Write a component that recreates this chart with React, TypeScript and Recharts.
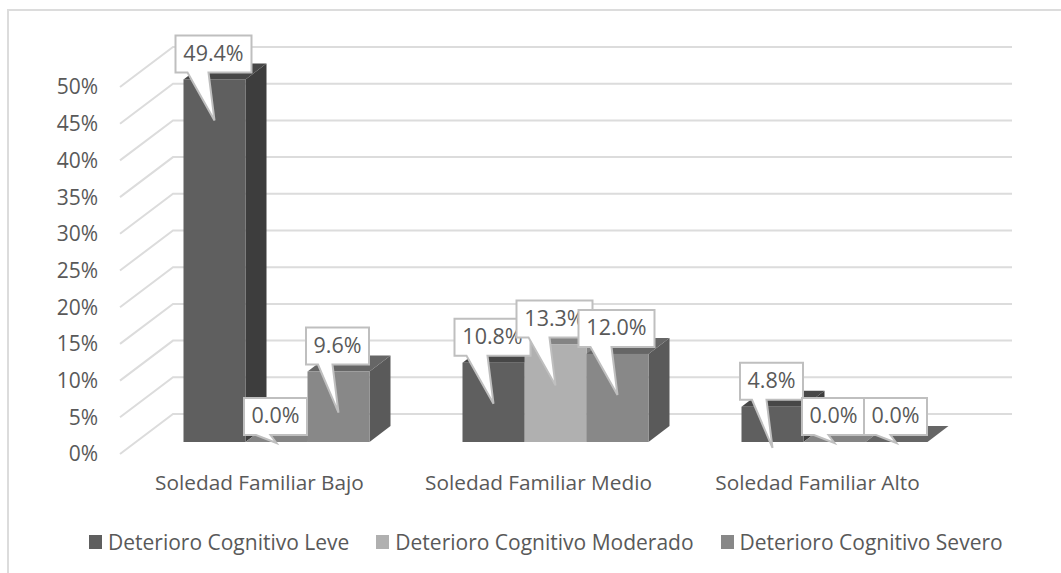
import React from "react";
import { BarChart, Bar, XAxis, YAxis, CartesianGrid, LabelList, Legend } from "recharts";

const categories = ["Soledad Familiar Bajo", "Soledad Familiar Medio", "Soledad Familiar Alto"];
const leve = [49.4, 10.8, 4.8];
const moderado = [0.0, 13.3, 0.0];
const severo = [9.6, 12.0, 0.0];
const yTicks = [0, 5, 10, 15, 20, 25, 30, 35, 40, 45, 50];

const data = categories.map((name, i) => ({ name, leve: leve[i], moderado: moderado[i], severo: severo[i] }));

const FONT = "'Open Sans', sans-serif";
const TEXT = "#595959";
const GRID = "#dcdcdc";
// 3-D projection of the original chart
const DX = 21, DY = 16, BAR_SHIFT_X = 16.5, BAR_SHIFT_Y = -12;
const WALL_X = 53, WALL_Y = -40;

const Bar3D = (colors: { front: string; side: string; top: string }) => (props: any) => {
  const x = props.x + BAR_SHIFT_X;
  const y = props.y + BAR_SHIFT_Y;
  const w = props.width;
  const h = props.height;
  return (
    <g>
      <polygon points={`${x + w},${y} ${x + w + DX},${y - DY} ${x + w + DX},${y + h - DY} ${x + w},${y + h}`} fill={colors.side} />
      <polygon points={`${x},${y} ${x + DX},${y - DY} ${x + w + DX},${y - DY} ${x + w},${y}`} fill={colors.top} />
      <rect x={x} y={y} width={w} height={h} fill={colors.front} />
    </g>
  );
};

const Callout = (props: any) => {
  const { x, y, width, value } = props;
  const text = `${Number(value).toFixed(1)}%`;
  const cx = x + BAR_SHIFT_X + width / 2 - 1;
  const top = y + BAR_SHIFT_Y;
  const w = text.length > 4 ? 76 : 63;
  const h = 37;
  const l = cx - w / 2;
  const t = top - 7 - h;
  const b = t + h;
  const tipY = value > 0 ? top + 41 : top + 1;
  const d = `M${l},${t} H${l + w} V${b} H${cx - 5} L${cx + 1},${tipY} L${l + 12},${b} H${l} Z`;
  return (
    <g>
      <path d={d} fill="#ffffff" stroke="#bfbfbf" strokeWidth={2} />
      <text x={cx} y={t + h / 2 + 1} textAnchor="middle" dominantBaseline="middle" fontFamily={FONT} fontSize={21.5} fill={TEXT}>
        {text}
      </text>
    </g>
  );
};

const gridLine = (props: any) => {
  const { x1, x2, y1, key } = props;
  return (
    <path
      key={key}
      d={`M${x1},${y1} L${x1 + WALL_X},${y1 + WALL_Y} L${x2 + 55},${y1 + WALL_Y}`}
      fill="none"
      stroke={GRID}
      strokeWidth={2}
    />
  );
};

const LegendContent = (props: any) => (
  <div style={{ display: "flex", fontFamily: FONT, fontSize: 21, lineHeight: "28px", color: TEXT, whiteSpace: "nowrap" }}>
    {props.payload.map((p: any) => (
      <div key={p.value} style={{ display: "flex", alignItems: "center", marginRight: 27 }}>
        <span style={{ width: 13, height: 14, background: p.color, marginRight: 6, display: "inline-block" }} />
        {p.value}
      </div>
    ))}
  </div>
);

export default function App() {
  return (
    <div style={{ position: "absolute", left: 0, top: 0, width: 1061, height: 573, overflow: "hidden", background: "#fff" }}>
      <div style={{ position: "absolute", left: 7, top: 9, width: 1100, height: 620, border: `2px solid ${GRID}`, boxSizing: "border-box" }} />
      <BarChart
        width={1061}
        height={573}
        data={data}
        margin={{ top: 87, right: 104, bottom: 31, left: 0 }}
        barSize={62}
        barGap={0}
        style={{ position: "absolute", left: 0, top: 0 }}
      >
        <CartesianGrid horizontal={gridLine} vertical={false} />
        <XAxis
          dataKey="name"
          axisLine={false}
          tickLine={false}
          tickSize={0}
          tickMargin={21}
          height={60}
          interval={0}
          tick={{ fontFamily: FONT, fontSize: 20.8, fill: TEXT }}
        />
        <YAxis
          width={120}
          domain={[0, 50]}
          ticks={yTicks}
          interval={0}
          axisLine={false}
          tickLine={false}
          tickSize={0}
          tickMargin={22}
          tickFormatter={(v: number) => `${v}%`}
          tick={{ fontFamily: FONT, fontSize: 21, fill: TEXT }}
        />
        <Legend
          content={LegendContent}
          wrapperStyle={{ position: "absolute", left: 89, top: 528, width: 960, bottom: "auto" }}
        />
        <Bar dataKey="leve" name="Deterioro Cognitivo Leve" fill="#5f5f5f" isAnimationActive={false} shape={Bar3D({ front: "#5f5f5f", side: "#3d3d3d", top: "#474747" })}>
          <LabelList dataKey="leve" content={Callout} />
        </Bar>
        <Bar dataKey="moderado" name="Deterioro Cognitivo Moderado" fill="#b0b0b0" isAnimationActive={false} shape={Bar3D({ front: "#b0b0b0", side: "#848484", top: "#848484" })}>
          <LabelList dataKey="moderado" content={Callout} />
        </Bar>
        <Bar dataKey="severo" name="Deterioro Cognitivo Severo" fill="#888888" isAnimationActive={false} shape={Bar3D({ front: "#888888", side: "#5a5a5a", top: "#666666" })}>
          <LabelList dataKey="severo" content={Callout} />
        </Bar>
      </BarChart>
    </div>
  );
}
